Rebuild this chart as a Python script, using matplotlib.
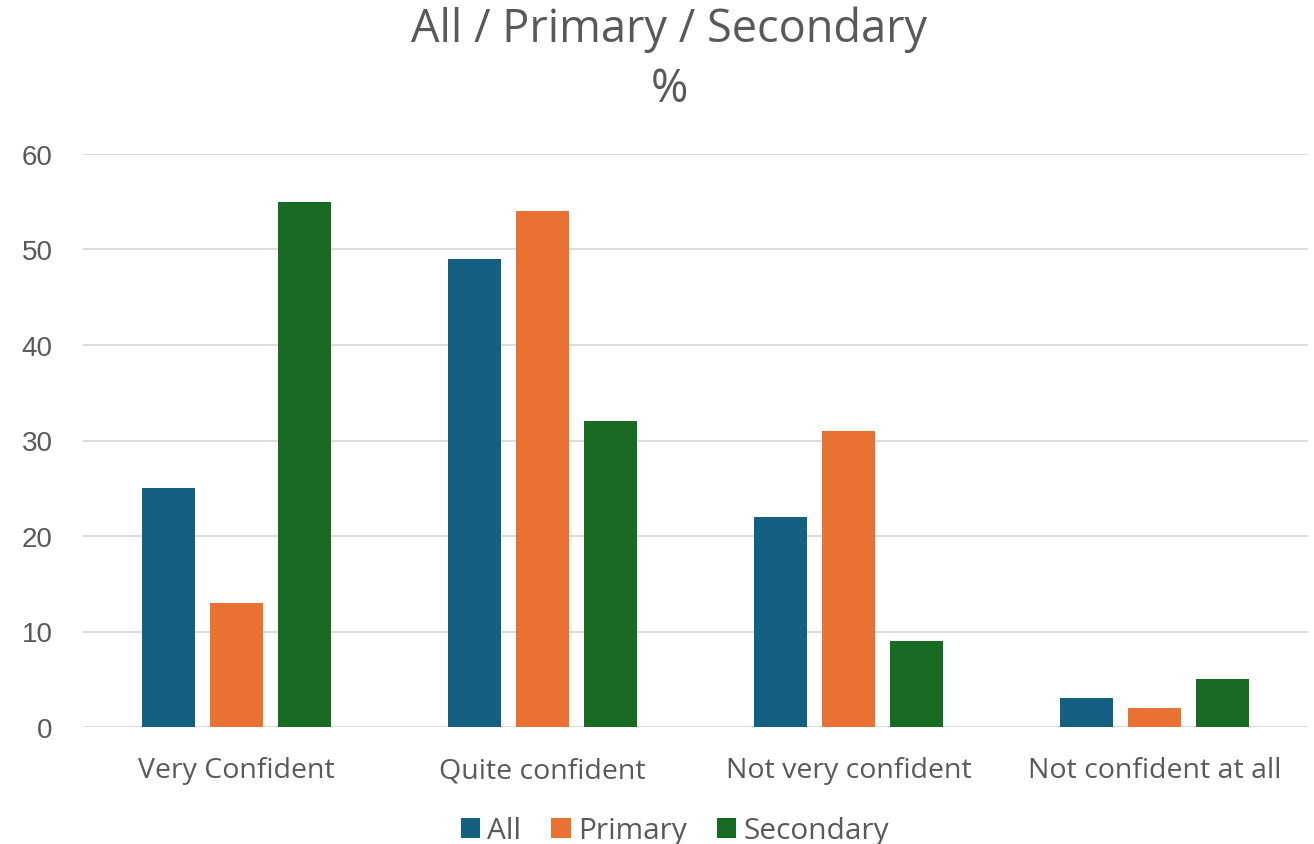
import matplotlib
matplotlib.use("Agg")
import matplotlib.pyplot as plt
import numpy as np
from matplotlib.patches import Patch

categories = ["Very Confident", "Quite confident", "Not very confident", "Not confident at all"]
series_names = ["All", "Primary", "Secondary"]
all_vals = [25, 49, 22, 3]
primary_vals = [13, 54, 31, 2]
secondary_vals = [55, 32, 9, 5]
yticks = [0, 10, 20, 30, 40, 50, 60]

colors = ["#156082", "#E97132", "#196B24"]
text_color = "#595959"
plt.rcParams['font.family'] = ['Open Sans', 'DejaVu Sans']

fig = plt.figure(figsize=(13.14, 8.45), dpi=100)
ax = fig.add_axes([83/1314, 1-728/845, (1308-83)/1314, (728-155)/845])

x = np.arange(len(categories))
width = 0.173
offset = 0.222
for i, vals in enumerate([all_vals, primary_vals, secondary_vals]):
    ax.bar(x + (i-1)*offset, vals, width, color=colors[i], zorder=3)

ax.set_xlim(-0.5, len(categories)-0.5)
ax.set_ylim(0, 60)
ax.set_yticks(yticks)
ax.set_yticklabels([str(t) for t in yticks], fontsize=20, color=text_color, family=['Liberation Sans'])
ax.set_xticks(x)
ax.set_xticklabels(categories, fontsize=20.5, color=text_color)
ax.tick_params(axis='both', length=0)
ax.tick_params(axis='y', pad=22)
ax.tick_params(axis='x', pad=21)
ax.grid(axis='y', color='#D9D9D9', linewidth=1.3, zorder=0)
for s in ax.spines.values():
    s.set_visible(False)

fig.text(669/1314, 1-30/845, "All / Primary / Secondary", ha='center', va='center', fontsize=32.5, color=text_color)
fig.text(669/1314, 1-90/845, "%", ha='center', va='center', fontsize=32.5, color=text_color)

handles = [Patch(facecolor=c, label=n) for c, n in zip(colors, series_names)]
leg = fig.legend(handles=handles, loc='center', bbox_to_anchor=(675/1314, 1-832/845), ncol=3,
                 frameon=False, fontsize=21.5, handlelength=0.65, handleheight=0.65, handletextpad=0.25,
                 columnspacing=1.0)
for t in leg.get_texts():
    t.set_color(text_color)

fig.savefig("out.png", dpi=100)
